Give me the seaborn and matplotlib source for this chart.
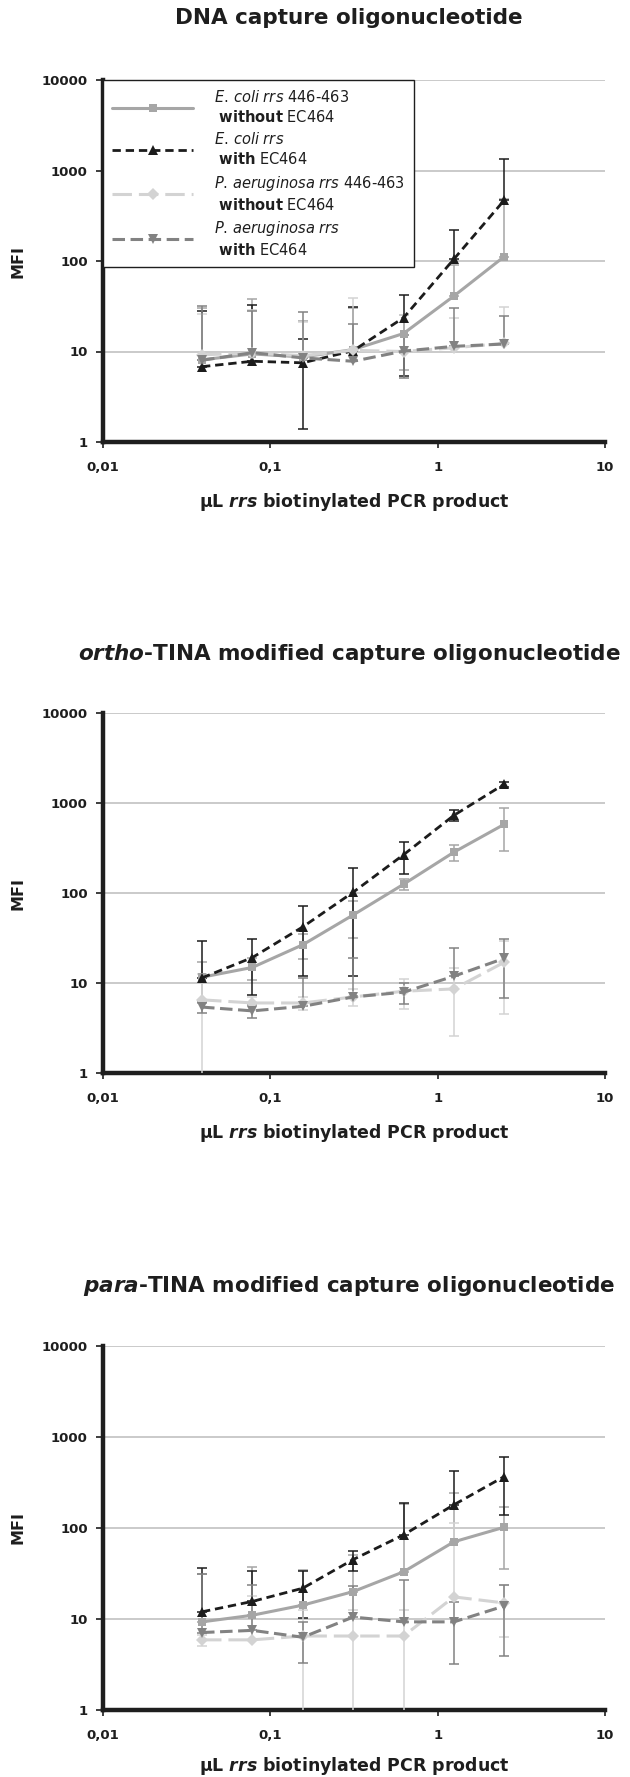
import matplotlib
matplotlib.use("Agg")
import matplotlib.pyplot as plt
import seaborn as sns
import numpy as np
from matplotlib.lines import Line2D

# µL of biotinylated PCR product (two-fold dilutions)
dose = [0.0390625, 0.078125, 0.15625, 0.3125, 0.625, 1.25, 2.5]

# DNA capture oligonucleotide
dna_ecoli_wo = [8.1, 9.4, 8.7, 10.5, 15.8, 41, 112]
dna_ecoli_wo_sd = [22, 29, 13, 20, 9.5, 50, 372]
dna_ecoli_w = [6.8, 7.8, 7.5, 10.2, 23.6, 105, 470]
dna_ecoli_w_sd = [21, 24.6, 6.1, 21, 18.2, 116, 875]
dna_paer_wo = [9.2, 9.6, 9.0, 10.3, 10.0, 11.0, 12.3]
dna_paer_wo_sd = [17, 19, 12, 29, 15, 12.5, 19]
dna_paer_w = [8.0, 9.7, 8.5, 7.8, 10.1, 11.4, 12.1]
dna_paer_w_sd = [24, 18.5, 18.5, 12.3, 5, 19, 12.5]

# ortho-TINA modified capture oligonucleotide
ortho_ecoli_wo = [11.6, 14.9, 26.6, 57, 125, 284, 580]
ortho_ecoli_wo_sd = [5.6, 4, 8.3, 25, 18, 57, 290]
ortho_ecoli_w = [11.4, 19.2, 42, 102, 266, 729, 1620]
ortho_ecoli_w_sd = [18, 11.8, 30, 90, 105, 105, 110]
ortho_paer_wo = [6.5, 6.0, 6.0, 7.0, 8.1, 8.6, 17.0]
ortho_paer_wo_sd = [6.0, 1.0, 1.0, 1.5, 2.9, 6.0, 12.5]
ortho_paer_w = [5.4, 4.9, 5.5, 7.0, 7.9, 11.9, 18.8]
ortho_paer_w_sd = [0.8, 0.8, 6, 12, 2, 12.5, 12]

# para-TINA modified capture oligonucleotide
para_ecoli_wo = [9.3, 11.0, 14.2, 20.0, 33.0, 70.5, 102]
para_ecoli_wo_sd = [21.7, 26.6, 20, 30, 150, 170, 67]
para_ecoli_w = [12.0, 15.6, 21.8, 45, 84, 180, 368]
para_ecoli_w_sd = [24, 18.5, 11.5, 11.2, 102, 243, 230]
para_paer_wo = [5.9, 5.9, 6.5, 6.5, 6.5, 17.5, 15.0]
para_paer_wo_sd = [0.8, 12, 6.0, 6.0, 6.0, 96, 8.7]
para_paer_w = [7.1, 7.5, 6.3, 10.5, 9.3, 9.3, 13.9]
para_paer_w_sd = [24, 16, 3.0, 12.5, 17.7, 6.1, 10]

titles = [
    "DNA capture oligonucleotide",
    r"$\mathbfit{ortho}$-TINA modified capture oligonucleotide",
    r"$\mathbfit{para}$-TINA modified capture oligonucleotide",
]
legend_labels = [
    r"$\mathit{E.\,coli\ rrs}$ 446-463" + "\n " + r"$\mathbf{without}$ EC464",
    r"$\mathit{E.\,coli\ rrs}$" + "\n " + r"$\mathbf{with}$ EC464",
    r"$\mathit{P.\,aeruginosa\ rrs}$ 446-463" + "\n " + r"$\mathbf{without}$ EC464",
    r"$\mathit{P.\,aeruginosa\ rrs}$" + "\n " + r"$\mathbf{with}$ EC464",
]
xtick_vals = [0.01, 0.1, 1, 10]
xtick_labels = ["0,01", "0,1", "1", "10"]
ytick_vals = [1, 10, 100, 1000, 10000]
ytick_labels = ["1", "10", "100", "1000", "10000"]

panels = [
    [(dna_ecoli_wo, dna_ecoli_wo_sd), (dna_ecoli_w, dna_ecoli_w_sd),
     (dna_paer_wo, dna_paer_wo_sd), (dna_paer_w, dna_paer_w_sd)],
    [(ortho_ecoli_wo, ortho_ecoli_wo_sd), (ortho_ecoli_w, ortho_ecoli_w_sd),
     (ortho_paer_wo, ortho_paer_wo_sd), (ortho_paer_w, ortho_paer_w_sd)],
    [(para_ecoli_wo, para_ecoli_wo_sd), (para_ecoli_w, para_ecoli_w_sd),
     (para_paer_wo, para_paer_wo_sd), (para_paer_w, para_paer_w_sd)],
]

# styles per series: E. coli w/o, E. coli with, P. aer w/o, P. aer with
colors = ["#a6a6a6", "#1c1c1c", "#d3d3d3", "#828282"]
markers = ["s", "^", "D", "v"]
msizes = [6, 7, 6, 7]
lstyles = ["-", (0, (6, 3.5)), (0, (14, 5)), (0, (9, 4))]
lwidths = [2.2, 2.0, 2.2, 2.2]
draw_order = [2, 0, 3, 1]

sns.set_theme(style="white")
plt.rcParams["font.family"] = ["DejaVu Sans"]
plt.rcParams["mathtext.fontset"] = "dejavusans"
plt.rcParams["lines.scale_dashes"] = False
plt.rcParams["text.color"] = "#1e1e1e"

W, H = 630, 1777
fig = plt.figure(figsize=(W / 100, H / 100), dpi=100)

# (top, bottom) pixel rows of each plot area, title centre row, x label gap
boxes = [(80, 442, 18, 49), (713, 1073, 654, 49), (1346, 1710, 1286, 45)]
left_px, right_px = 103, 605

for p, (top, bot, title_y, xlab_gap) in enumerate(boxes):
    ax = fig.add_axes([left_px / W, 1 - bot / H, (right_px - left_px) / W, (bot - top) / H])
    ax.set_xscale("log")
    ax.set_yscale("log")

    for i in draw_order:
        mean, sd = panels[p][i]
        mean = np.array(mean)
        sd = np.array(sd)
        # lower bar left out when it would fall below zero (log axis)
        low = np.where(mean - sd > 0, sd, 0)
        ax.errorbar(dose, mean, yerr=[low, sd], fmt="none", ecolor=colors[i],
                    elinewidth=1.1, capsize=3.8, capthick=1.1, zorder=3 + i * 0.1)
        sns.lineplot(x=dose, y=mean, ax=ax, color=colors[i], marker=markers[i],
                     markersize=msizes[i], markeredgewidth=0, linestyle=lstyles[i],
                     linewidth=lwidths[i], errorbar=None, legend=False, zorder=4 + i * 0.1)

    ax.set_xlim(0.01, 10)
    ax.set_ylim(1, 10000)
    ax.set_xticks(xtick_vals)
    ax.set_xticklabels(xtick_labels, fontweight="bold")
    ax.set_yticks(ytick_vals)
    ax.set_yticklabels(ytick_labels, fontweight="bold")
    ax.minorticks_off()
    ax.tick_params(axis="x", which="major", direction="out", bottom=True, length=4,
                   width=1.2, color="#1e1e1e", labelsize=9.5, pad=10, labelcolor="#1e1e1e")
    ax.tick_params(axis="y", which="major", direction="out", left=True, length=5,
                   width=1.2, color="#1e1e1e", labelsize=9.5, pad=6, labelcolor="#1e1e1e")

    ax.yaxis.grid(True, color="#c6c6c6", linewidth=1.3)
    ax.xaxis.grid(False)
    ax.set_axisbelow(True)
    sns.despine(ax=ax)
    for side in ["left", "bottom"]:
        ax.spines[side].set_linewidth(3.2)
        ax.spines[side].set_color("#1e1e1e")

    ax.set_xlabel(r"µL $\mathbfit{rrs}$ biotinylated PCR product", fontweight="bold",
                  fontsize=12.5, color="#1e1e1e")
    ax.xaxis.set_label_coords(0.5, -xlab_gap / (bot - top))
    ax.set_ylabel("MFI", fontweight="bold", fontsize=11.5, color="#1e1e1e")
    ax.yaxis.set_label_coords(-78 / (right_px - left_px), 0.5)

    fig.text(349 / W, 1 - title_y / H, titles[p], ha="center", va="center",
             fontweight="bold", fontsize=15.5, color="#1e1e1e")

    if p == 0:
        handles = [Line2D([], [], color=colors[i], marker=markers[i], markersize=msizes[i],
                          markeredgewidth=0, linestyle=lstyles[i], linewidth=lwidths[i])
                   for i in range(4)]
        leg = ax.legend(handles, legend_labels, loc="upper left", bbox_to_anchor=(0, 1),
                        borderaxespad=0, fontsize=10.5, frameon=True, fancybox=False,
                        framealpha=1, edgecolor="#1e1e1e", handlelength=5.6,
                        handletextpad=1.4, borderpad=0.6, labelspacing=0.45)
        leg.get_frame().set_linewidth(1.0)
        leg.set_zorder(10)
        for t in leg.get_texts():
            t.set_linespacing(1.3)

fig.savefig("out.png", dpi=100)
